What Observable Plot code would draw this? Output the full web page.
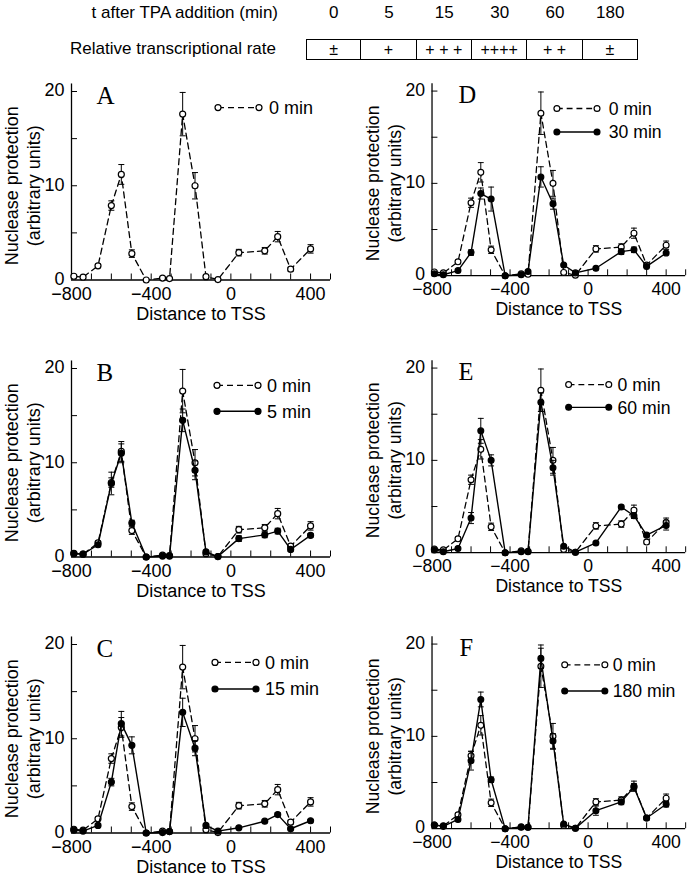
<!DOCTYPE html>
<html>
<head>
<meta charset="utf-8">
<script src="https://cdn.jsdelivr.net/npm/d3@7"></script>
<script src="https://cdn.jsdelivr.net/npm/@observablehq/plot@0.6"></script>
<style>
  html, body { margin: 0; padding: 0; background: #fff; overflow: hidden; }
  body { width: 693px; height: 880px; position: relative; font-family: "Liberation Sans", Arial, sans-serif; color: #000; }
  .abs { position: absolute; white-space: nowrap; }
  .hdr { font-size: 17px; line-height: 20px; }
  .cell { position: absolute; top: 39px; height: 21px; border: 1px solid #000; box-sizing: border-box; text-align: center; font-size: 16px; line-height: 19px; }
  .panel { position: absolute; }
</style>
</head>
<body>
<div id="header"></div>
<div id="panels"></div>
<script>
// ---------- data ----------
const times = ["0", "5", "15", "30", "60", "180"];
const rates = ["±", "+", "+ + +", "++++", "+ +", "±"];

const positions = [-788, -742, -667, -600, -550, -497, -425, -343, -308, -242, -180, -125, -65, 40, 170, 235, 300, 400];

const min0   = [0.4, 0.3, 1.5, 7.9, 11.2, 2.8, 0, 0.2, 0.15, 17.6, 10.0, 0.35, 0.05, 2.9, 3.1, 4.6, 1.15, 3.3];
const err0   = [0.1, 0.1, 0.2, 0.5, 1.05, 0.4, 0, 0.1, 0.1, 2.3, 1.4, 0.1, 0.1, 0.35, 0.35, 0.55, 0.2, 0.45];
const min5   = [0.35, 0.3, 1.3, 7.8, 11.0, 3.6, 0, 0.1, 0.1, 14.5, 9.2, 0.55, 0.05, 1.95, 2.35, 2.75, 0.8, 2.3];
const err5   = [0.1, 0.1, 0.2, 1.2, 1.0, 0.3, 0, 0.1, 0.1, 1.2, 1.0, 0.1, 0.1, 0.3, 0.3, 0.3, 0.2, 0.2];
const min15  = [0.3, 0.2, 0.8, 5.4, 11.6, 9.3, 0, 0.05, 0.15, 12.8, 9.0, 0.8, 0.2, 0.55, 1.25, 1.95, 0.45, 1.3];
const err15  = [0.1, 0.1, 0.2, 0.4, 1.3, 0.9, 0, 0.1, 0.1, 1.5, 0.8, 0.1, 0.1, 0.1, 0.1, 0.2, 0.1, 0.1];
const min30  = [0.2, 0.1, 0.55, 2.5, 8.9, 8.3, 0, 0.1, 0.45, 10.7, 7.8, 1.15, 0.3, 0.8, 2.6, 2.8, 1.0, 2.45];
const err30  = [0.1, 0.1, 0.1, 0.3, 0.6, 1.3, 0, 0.1, 0.1, 1.1, 0.6, 0.1, 0.1, 0.1, 0.3, 0.3, 0.1, 0.1];
const min60  = [0.3, 0.1, 0.45, 3.75, 13.2, 10.0, 0, 0.1, 0.1, 16.3, 9.2, 0.7, 0.05, 1.05, 4.95, 4.0, 1.9, 2.95];
const err60  = [0.1, 0.1, 0.1, 0.6, 1.35, 0.6, 0, 0.1, 0.1, 1.0, 0.8, 0.1, 0.1, 0.1, 0.2, 0.3, 0.2, 0.5];
const min180 = [0.4, 0.25, 1.0, 7.35, 14.0, 5.3, 0, 0.15, 0.15, 18.45, 9.5, 0.5, 0.05, 1.95, 2.9, 4.5, 1.15, 2.65];
const err180 = [0.1, 0.1, 0.1, 1.0, 0.8, 0.3, 0, 0.1, 0.1, 1.1, 0.8, 0.1, 0.1, 0.5, 0.3, 0.4, 0.1, 0.3];

const xTickLabels = [-800, -400, 0, 400];
const xMinorTicks = [-700, -600, -500, -400, -300, -200, -100, 0, 100, 200, 300, 400, 500];
const yTickLabels = [0, 10, 20];
const yMinorTicks = [5, 10, 15, 20];

const yLabel = "Nuclease protection\n(arbitrary units)";
const xLabel = "Distance to TSS";

// ---------- header ----------
const header = document.getElementById("header");
const cellLeft = 306, cellW = 55.33;
function addDiv(cls, text, style) {
  const d = document.createElement("div");
  d.className = cls; d.textContent = text;
  Object.assign(d.style, style);
  header.appendChild(d);
  return d;
}
addDiv("abs hdr", "t after TPA addition (min)", {right: (693 - 278) + "px", top: "3px"});
addDiv("abs hdr", "Relative transcriptional rate", {right: (693 - 276) + "px", top: "39px"});
times.forEach((t, i) => {
  addDiv("abs hdr", t, {left: (cellLeft + i * cellW) + "px", width: cellW + "px", textAlign: "center", top: "3px"});
});
rates.forEach((r, i) => {
  addDiv("cell", r, {left: (cellLeft + i * cellW - (i > 0 ? 1 : 0)) + "px", width: (cellW + (i > 0 ? 1 : 0)) + "px"});
});

// ---------- panels ----------
const ML = 71, MT = 20, MB = 50, MR = 8;
const FW = 259, FH = 188.5;
const W = ML + FW + MR, H = MT + FH + MB;

const capSymbol = {
  draw(ctx, size) {
    const w = Math.sqrt(size / Math.PI);
    ctx.moveTo(-w, 0); ctx.lineTo(w, 0);
  }
};

const panels = [
  {letter: "A", vals: null,   errs: null,   name: null,      left: 0,   top: 71,    lx: 147, ly0: 16.6, ly1: 41, tx: 198, ldx: 25},
  {letter: "D", vals: min30,  errs: err30,  name: "30 min",  left: 362, top: 71,    lx: 128, ly0: 18.3, ly1: 42.3, tx: 181, ldx: 27},
  {letter: "B", vals: min5,   errs: err5,   name: "5 min",   left: 0,   top: 347.7, lx: 146, ly0: 17.3, ly1: 43.3, tx: 196, ldx: 25},
  {letter: "E", vals: min60,  errs: err60,  name: "60 min",  left: 362, top: 347.7, lx: 140, ly0: 17.3, ly1: 40.6, tx: 190, ldx: 27},
  {letter: "C", vals: min15,  errs: err15,  name: "15 min",  left: 0,   top: 624.3, lx: 144, ly0: 18.4, ly1: 45, tx: 194, ldx: 25},
  {letter: "F", vals: min180, errs: err180, name: "180 min", left: 362, top: 624.3, lx: 136, ly0: 21.7, ly1: 48.4, tx: 185, ldx: 28}
];

function seriesMarks(rows, filled) {
  const withErr = rows.filter(d => d.e > 0);
  return [
    Plot.line(rows, {x: "x", y: "y", stroke: "#000", strokeWidth: filled ? 1.4 : 1.3, strokeDasharray: filled ? null : "6,4"}),
    Plot.ruleX(withErr, {x: "x", y1: d => Math.max(0, d.y - d.e), y2: d => d.y + d.e, stroke: "#000", strokeWidth: 1}),
    Plot.dot(withErr, {x: "x", y: d => d.y + d.e, symbol: capSymbol, r: 3, stroke: "#000", fill: "none", strokeWidth: 1}),
    Plot.dot(withErr.filter(d => d.y - d.e > 0), {x: "x", y: d => d.y - d.e, symbol: capSymbol, r: 3, stroke: "#000", fill: "none", strokeWidth: 1}),
    Plot.dot(rows, {x: "x", y: "y", r: 3, stroke: "#000", strokeWidth: 1.2, fill: filled ? "#000" : "#fff"})
  ];
}

const container = document.getElementById("panels");
panels.forEach(p => {
  const rows0 = positions.map((x, i) => ({x, y: min0[i], e: err0[i]}));
  const rows1 = p.vals ? positions.map((x, i) => ({x, y: p.vals[i], e: p.errs[i]})) : null;
  const plot = Plot.plot({
    width: W, height: H,
    marginLeft: ML, marginRight: MR, marginTop: MT, marginBottom: MB,
    x: {domain: [-800, 500], axis: null},
    y: {domain: [0, 20], axis: null},
    style: {fontFamily: "'Liberation Sans', Arial, sans-serif", fontSize: "18px", color: "#000", background: "transparent", overflow: "visible"},
    marks: [
      Plot.ruleY([0], {stroke: "#000", strokeWidth: 1.3}),
      Plot.ruleX([-800], {y1: 0, y2: 20.8, stroke: "#000", strokeWidth: 1.3}),
      Plot.tickX(xMinorTicks, {x: d => d, insetTop: FH - 6, stroke: "#000"}),
      Plot.tickY(yMinorTicks, {y: d => d, insetRight: FW - 6, stroke: "#000"}),
      Plot.axisX({ticks: xTickLabels, tickSize: 0, tickPadding: 7, label: null, fontSize: 18}),
      Plot.axisY({ticks: yTickLabels, tickSize: 0, tickPadding: 7, dy: -1, label: null, fontSize: 18}),
      Plot.text([yLabel], {frameAnchor: "left", rotate: -90, dx: -50, textAnchor: "middle", lineAnchor: "middle", lineHeight: 1.22, fontSize: 18}),
      Plot.text([xLabel], {frameAnchor: "bottom", dy: 34, lineAnchor: "middle", fontSize: 18}),
      Plot.text([p.letter], {frameAnchor: "top-left", dx: p.ldx, dy: 12, lineAnchor: "bottom", textAnchor: "start", fontFamily: "'Liberation Serif', 'Times New Roman', serif", fontSize: 25}),
      ...seriesMarks(rows0, false),
      ...(rows1 ? seriesMarks(rows1, true) : [])
    ]
  });
  // legend
  const svg = d3.select(plot);
  const g = svg.append("g").attr("transform", `translate(${ML},${MT})`).attr("text-anchor", "start");
  const entries = [{name: "0 min", filled: false, y: p.ly0}];
  if (p.name) entries.push({name: p.name, filled: true, y: p.ly1});
  entries.forEach(e => {
    g.append("line").attr("x1", p.lx).attr("x2", p.lx + 41).attr("y1", e.y).attr("y2", e.y)
      .attr("stroke", "#000").attr("stroke-width", e.filled ? 1.4 : 1.3)
      .attr("stroke-dasharray", e.filled ? null : "6,4");
    [p.lx, p.lx + 41].forEach(cx => {
      g.append("circle").attr("cx", cx).attr("cy", e.y).attr("r", 3)
        .attr("fill", e.filled ? "#000" : "#fff").attr("stroke", "#000").attr("stroke-width", 1.2);
    });
    g.append("text").attr("x", p.tx).attr("y", e.y).attr("dy", "0.35em")
      .attr("text-anchor", "start")
      .attr("font-size", 18).attr("fill", "#000").text(e.name);
  });
  const wrap = document.createElement("div");
  wrap.className = "panel";
  wrap.style.left = p.left + "px";
  wrap.style.top = p.top + "px";
  wrap.appendChild(plot);
  container.appendChild(wrap);
});
</script>
</body>
</html>
